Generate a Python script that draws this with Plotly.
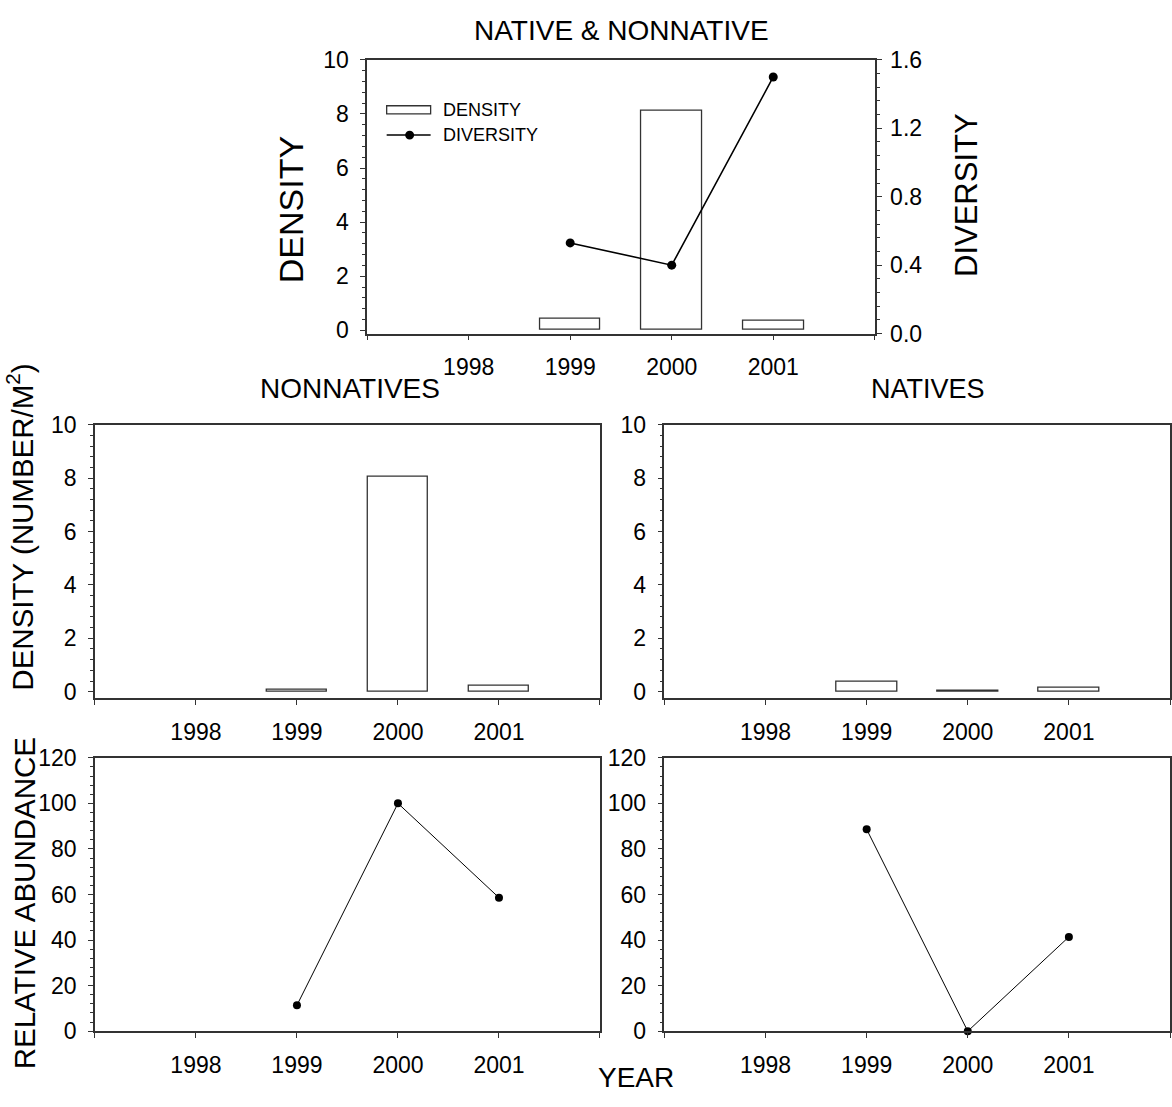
import plotly.graph_objects as go

# ---------------- data ----------------
years = [1998, 1999, 2000, 2001]
year_range = [1997, 2002]
year_tick_vals = [1998, 1999, 2000, 2001]
year_tick_text = ["1998", "1999", "2000", "2001"]

total_density = [None, 0.42, 8.10, 0.35]
total_diversity = [None, 0.53, 0.40, 1.50]

nonnative_density = [None, 0.06, 8.07, 0.21]
native_density = [None, 0.38, 0.02, 0.15]

nonnative_rel_abund = [None, 11.4, 100.0, 58.6]
native_rel_abund = [None, 88.6, 0.0, 41.4]

# ---------------- layout helpers ----------------
W, H = 1172, 1107
FONT = "Liberation Sans, Arial, sans-serif"
AX = "#333333"
TICKF = 23


def px(x):
    return x / W


def py(y):
    return 1 - y / H


fig = go.Figure()

bar_style = dict(marker=dict(color="white", line=dict(color=AX, width=1.3)), width=0.6)

# top panel
fig.add_trace(go.Bar(x=years, y=total_density, xaxis="x", yaxis="y", name="DENSITY", **bar_style))
fig.add_trace(go.Scatter(x=years, y=total_diversity, xaxis="x", yaxis="y2", name="DIVERSITY",
                         mode="lines+markers", line=dict(color="black", width=1.6),
                         marker=dict(color="black", size=9), cliponaxis=False))
# middle panels
fig.add_trace(go.Bar(x=years, y=nonnative_density, xaxis="x3", yaxis="y3", **bar_style))
fig.add_trace(go.Bar(x=years, y=native_density, xaxis="x4", yaxis="y4", **bar_style))
# bottom panels
fig.add_trace(go.Scatter(x=years, y=nonnative_rel_abund, xaxis="x5", yaxis="y5",
                         mode="lines+markers", line=dict(color="black", width=1),
                         marker=dict(color="black", size=8), cliponaxis=False))
fig.add_trace(go.Scatter(x=years, y=native_rel_abund, xaxis="x6", yaxis="y6",
                         mode="lines+markers", line=dict(color="black", width=1),
                         marker=dict(color="black", size=8), cliponaxis=False))


def xaxis(domain, anchor):
    return dict(domain=domain, anchor=anchor, range=year_range, tickmode="array",
                tickvals=year_tick_vals, ticktext=year_tick_text, ticks="outside",
                ticklen=5, tickwidth=1.2, tickcolor=AX, showline=True, linecolor=AX,
                linewidth=1.5, mirror=True, showgrid=False, zeroline=False,
                minor=dict(tickmode="array", tickvals=year_range, ticks="outside",
                           ticklen=5, tickwidth=1.2, tickcolor=AX),
                tickfont=dict(size=TICKF, color="black", family=FONT), ticklabelstandoff=7)


def yaxis(domain, anchor, rng, dtick, minor, mirror=True, side="left", fmt=None,
          overlay=None, standoff=7):
    d = dict(domain=domain, anchor=anchor, range=rng, tick0=0, dtick=dtick, ticks="outside",
             ticklen=5, tickwidth=1.2, tickcolor=AX, showline=True, linecolor=AX,
             linewidth=1.5, mirror=mirror, showgrid=False, zeroline=False, side=side,
             tickfont=dict(size=TICKF, color="black", family=FONT), ticklabelstandoff=standoff,
             minor=dict(dtick=minor, tick0=0, ticks="outside", ticklen=3, tickcolor=AX, tickwidth=1))
    if fmt:
        d["tickformat"] = fmt
    if overlay:
        d["overlaying"] = overlay
    return d


top_x = [px(367.5), px(875.5)]
top_y = [py(328.3), py(48)]
left_x = [px(95), px(600.5)]
right_x = [px(665), px(1171)]
mid_y = [py(701.7), py(421.7)]
bot_y = [py(1042.7), py(762.7)]

fig.update_layout(
    width=W, height=H, margin=dict(l=0, r=0, t=0, b=0),
    paper_bgcolor="white", plot_bgcolor="white", showlegend=False,
    font=dict(family=FONT, color="black"),
    bargap=0,
    xaxis=xaxis(top_x, "y"),
    yaxis=yaxis(top_y, "x", [-0.12, 10], 2, 0.4, mirror=False),
    yaxis2=yaxis(top_y, "x", [0, 1.6], 0.4, 0.08, mirror=False, side="right", fmt=".1f",
                 overlay="y", standoff=4),
    xaxis3=xaxis(left_x, "y3"),
    yaxis3=yaxis(mid_y, "x3", [-0.245, 10], 2, 0.4),
    xaxis4=xaxis(right_x, "y4"),
    yaxis4=yaxis(mid_y, "x4", [-0.245, 10], 2, 0.4),
    xaxis5=xaxis(left_x, "y5"),
    yaxis5=yaxis(bot_y, "x5", [0, 120], 20, 4),
    xaxis6=xaxis(right_x, "y6"),
    yaxis6=yaxis(bot_y, "x6", [0, 120], 20, 4),
)


def label(text, x, y, size, angle=0, xanchor="center"):
    fig.add_annotation(text=text, x=px(x), y=py(y), xref="paper", yref="paper",
                       showarrow=False, textangle=angle, xanchor=xanchor, yanchor="middle",
                       font=dict(size=size, family=FONT, color="black"))


label("NATIVE &amp; NONNATIVE", 622, 18, 28)
label("NONNATIVES", 350, 385, 28)
label("NATIVES", 929, 385, 27)
label("DENSITY", 291.5, 201.7, 34, angle=-90)
label("DIVERSITY", 967.5, 186.7, 31, angle=-90)
label("DENSITY (NUMBER/M<sup>2</sup>)", 20, 526, 29.5, angle=-90)
label("RELATIVE ABUNDANCE", 24, 911.7, 29.5, angle=-90)
label("YEAR", 637, 1090, 28)

# legend (top panel)
fig.add_shape(type="rect", xref="paper", yref="paper", x0=px(387), x1=px(431), y0=py(103.3), y1=py(95),
              line=dict(color=AX, width=1.3), fillcolor="white")
fig.add_shape(type="line", xref="paper", yref="paper", x0=px(387), x1=px(431), y0=py(125), y1=py(125),
              line=dict(color="black", width=1.6))
fig.add_shape(type="circle", xref="paper", yref="paper", x0=px(405.5), x1=px(414.5), y0=py(129.5), y1=py(120.5),
              line=dict(color="black", width=0), fillcolor="black")
label("DENSITY", 441.7, 99, 18, xanchor="left")
label("DIVERSITY", 441.7, 125, 18, xanchor="left")

fig.write_html("out.html", config={"displayModeBar": False},
               post_script="document.body.style.margin='0';document.body.style.overflow='hidden';")
